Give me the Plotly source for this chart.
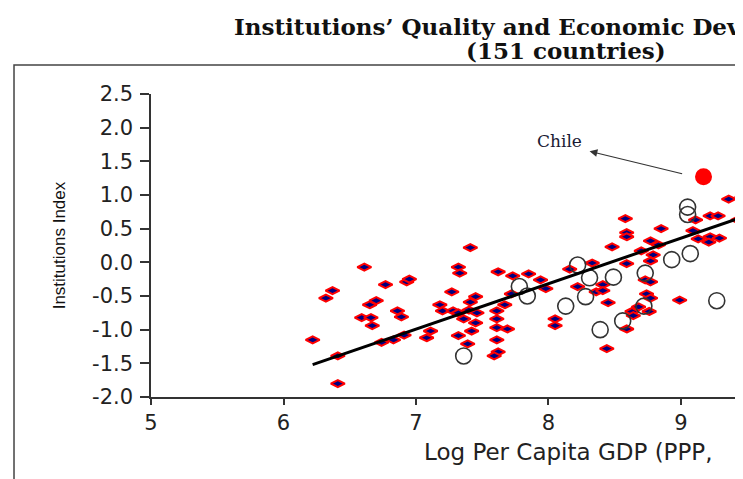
import plotly.graph_objects as go

# Log per capita GDP and institutions index
diamond_x = [6.22, 6.32, 6.37, 6.41, 6.41, 6.61, 6.77, 6.93, 6.95, 6.65, 6.70, 6.86, 6.89,
             6.59, 6.66, 6.67, 6.74, 6.83, 6.91, 7.41, 7.32, 7.33, 7.27, 7.18, 7.20, 7.28,
             7.32, 7.40, 7.45, 7.41, 7.46, 7.36, 7.45, 7.42, 7.11, 7.08, 7.32, 7.39, 7.62,
             7.73, 7.85, 7.94, 7.98, 7.72, 7.67, 7.61, 7.61, 7.61, 7.69, 7.61, 7.62, 7.59,
             8.05, 8.05, 8.16, 8.22, 8.33, 8.36, 8.41, 8.41, 8.45, 8.48, 8.58, 8.59, 8.59,
             8.59, 8.70, 8.79, 8.77, 8.77, 8.83, 8.85, 8.73, 8.77, 8.74, 8.77, 8.76, 8.68,
             8.63, 8.64, 8.59, 8.44, 8.99, 9.09, 9.13, 9.11, 9.22, 9.21, 9.29, 9.22, 9.28,
             9.43, 9.36, 9.46]
diamond_y = [-1.15, -0.53, -0.42, -1.39, -1.80, -0.07, -0.33, -0.29, -0.25, -0.63, -0.57,
             -0.72, -0.81, -0.82, -0.82, -0.94, -1.19, -1.15, -1.08, 0.22, -0.07, -0.16,
             -0.44, -0.63, -0.72, -0.72, -0.75, -0.71, -0.51, -0.59, -0.75, -0.84, -0.90,
             -1.02, -1.02, -1.12, -1.09, -1.21, -0.14, -0.20, -0.17, -0.26, -0.39, -0.47,
             -0.63, -0.72, -0.84, -0.97, -0.99, -1.15, -1.33, -1.39, -0.84, -0.94, -0.10,
             -0.36, -0.01, -0.44, -0.33, -0.42, -0.60, 0.23, 0.65, 0.44, 0.38, -0.02, 0.17,
             0.11, 0.02, 0.32, 0.26, 0.50, -0.26, -0.29, -0.47, -0.53, -0.73, -0.66, -0.73,
             -0.79, -0.99, -1.28, -0.56, 0.47, 0.35, 0.63, 0.38, 0.30, 0.36, 0.69, 0.69,
             0.63, 0.94, 0.97]

circle_x = [7.36, 7.78, 7.84, 8.13, 8.22, 8.28, 8.31, 8.39, 8.49, 8.56, 8.72, 8.73, 8.93,
            9.07, 9.05, 9.05, 9.27]
circle_y = [-1.39, -0.36, -0.50, -0.65, -0.04, -0.51, -0.23, -1.00, -0.22, -0.87, -0.65,
            -0.16, 0.04, 0.13, 0.82, 0.71, -0.57]

chile_x = [9.17]
chile_y = [1.27]

fit_x = [6.22, 9.80]
fit_y = [-1.52, 0.90]

x_ticks = [5, 6, 7, 8, 9]
y_ticks = [-2.0, -1.5, -1.0, -0.5, 0.0, 0.5, 1.0, 1.5, 2.0, 2.5]

fig = go.Figure()

fig.add_trace(go.Scatter(
    x=diamond_x, y=diamond_y, mode="markers",
    marker=dict(symbol="diamond-wide", size=10, color="#000080",
                line=dict(color="#ff0000", width=2)),
    showlegend=False, cliponaxis=False,
))
fig.add_trace(go.Scatter(
    x=circle_x, y=circle_y, mode="markers",
    marker=dict(symbol="circle-open", size=16, color="#333333", line=dict(width=1.6)),
    showlegend=False,
))
fig.add_trace(go.Scatter(
    x=fit_x, y=fit_y, mode="lines",
    line=dict(color="black", width=3),
    showlegend=False,
))
fig.add_trace(go.Scatter(
    x=chile_x, y=chile_y, mode="markers",
    marker=dict(symbol="circle", size=17, color="#ff0000"),
    showlegend=False,
))

axis_font = dict(family="DejaVu Sans", size=21, color="#222222")

fig.update_xaxes(
    range=[5, 9.468], tickvals=x_ticks, ticktext=[str(v) for v in x_ticks],
    showgrid=False, zeroline=False, showline=True, linecolor="#333333", linewidth=1.5,
    ticks="outside", ticklen=6, tickcolor="#333333", tickwidth=1.5, tickfont=axis_font,
)
fig.update_yaxes(
    range=[-2.0, 2.5], tickvals=y_ticks, ticktext=[f"{v:.1f}" for v in y_ticks],
    showgrid=False, zeroline=False, showline=True, linecolor="#333333", linewidth=1.5,
    ticks="outside", ticklen=9, tickcolor="#333333", tickwidth=1.5, tickfont=axis_font,
    ticklabelstandoff=3,
)

# Chile label and arrow pointing from the dot toward the label
fig.add_annotation(x=8.31, y=1.65, ax=9.02, ay=1.31, xref="x", yref="y",
                   axref="x", ayref="y", text="", showarrow=True,
                   arrowhead=2, arrowsize=1.3, arrowwidth=1.2, arrowcolor="#333333")
fig.add_annotation(x=8.08, y=1.80, xref="x", yref="y", text="Chile", showarrow=False,
                   xanchor="center", yanchor="middle",
                   font=dict(family="DejaVu Serif", size=17, color="#1a1a33"))

# titles
fig.add_annotation(x=0.137, y=1.224, xref="paper", yref="paper", xanchor="left",
                   yanchor="middle",
                   text="<b>Institutions’ Quality and Economic Development</b>", showarrow=False,
                   font=dict(family="DejaVu Serif", size=23, color="#111111"))
fig.add_annotation(x=0.701, y=1.145, xref="paper", yref="paper", xanchor="center",
                   yanchor="middle",
                   text="<b>(151 countries)</b>", showarrow=False,
                   font=dict(family="DejaVu Serif", size=23, color="#111111"))
fig.add_annotation(x=-0.154, y=0.5, xref="paper", yref="paper", textangle=-90,
                   xanchor="center", yanchor="middle",
                   text="Institutions Index", showarrow=False,
                   font=dict(family="Arial, Liberation Sans", size=17, color="#111111"))
fig.add_annotation(x=0.458, y=-0.1815, xref="paper", yref="paper", xanchor="left",
                   yanchor="middle",
                   text="Log Per Capita GDP (PPP,", showarrow=False,
                   font=dict(family="DejaVu Sans", size=23, color="#222222"))

# outer frame of the chart box
fig.add_shape(type="rect", xref="paper", yref="paper", x0=-0.2314, x1=1.2,
              y0=-0.6, y1=1.0957, line=dict(color="#444444", width=1.5))

# page body has an 8px margin, so the figure is 8px smaller than the window
fig.update_layout(
    width=735, height=471,
    margin=dict(l=143, r=0, t=86, b=82),
    paper_bgcolor="white", plot_bgcolor="white",
)

fig.write_html("out.html")
